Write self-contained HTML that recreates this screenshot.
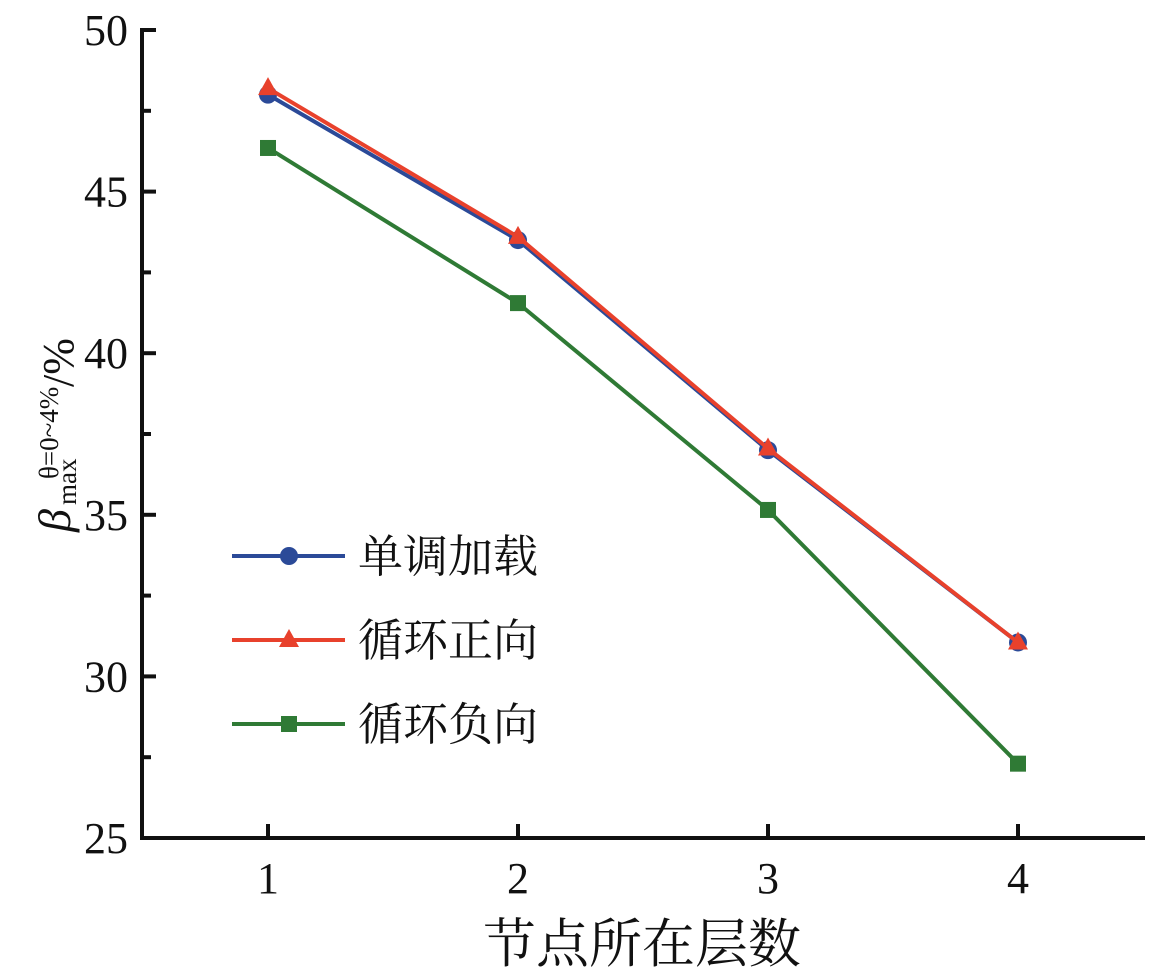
<!DOCTYPE html>
<html><head><meta charset="utf-8"><style>
html,body{margin:0;padding:0;background:#fff;}
svg{display:block;}
text{font-family:"Liberation Serif","Noto Serif CJK SC",serif;}
</style></head><body>
<svg id="chart" width="1164" height="974" viewBox="0 0 1164 974">
<g id="axes"></g><g id="series"></g><g id="legend"></g>
</svg>
<script>
const categories=[1,2,3,4];
const seriesNames=["单调加载","循环正向","循环负向"];
const monotonic=[48.0,43.5,37.0,31.05];
const cyclicPos=[48.2,43.6,37.05,31.05];
const cyclicNeg=[46.35,41.55,35.15,27.3];
const yTicks=[25,30,35,40,45,50];
const yMinor=[27.5,32.5,37.5,42.5,47.5];
const NS="http://www.w3.org/2000/svg";
function X(v){return 268+(v-1)*250;}
function Y(v){return 838-(v-25)*32.32;}
function mk(tag,attrs,parent,text){const e=document.createElementNS(NS,tag);for(const k in attrs)e.setAttribute(k,attrs[k]);if(text!==undefined)e.textContent=text;parent.appendChild(e);return e;}
const axes=document.getElementById('axes'),ser=document.getElementById('series'),leg=document.getElementById('legend');
let e;
e=mk('line',{x1:142,y1:28,x2:142,y2:840,stroke:'#111','stroke-width':4},axes);


e=mk('line',{x1:140,y1:838,x2:1145,y2:838,stroke:'#111','stroke-width':4},axes);


yTicks.forEach(t=>{
 mk('line',{x1:142,y1:Y(t),x2:156,y2:Y(t),stroke:'#111','stroke-width':4},axes);
 e=mk('text',{x:128,y:Y(t)+15,'text-anchor':'end','font-size':44,fill:'#111'},axes,String(t));
 
 
});
yMinor.forEach(t=>{mk('line',{x1:142,y1:Y(t),x2:151,y2:Y(t),stroke:'#111','stroke-width':4},axes);});
categories.forEach(c=>{
 mk('line',{x1:X(c),y1:838,x2:X(c),y2:824,stroke:'#111','stroke-width':4},axes);
 e=mk('text',{x:X(c),y:893,'text-anchor':'middle','font-size':44,fill:'#111'},axes,String(c));
 
 
});
e=mk('text',{x:642,y:962,'text-anchor':'middle','font-size':53,fill:'#111'},axes,'节点所在层数');


const yt=mk('g',{transform:'translate(60,435) rotate(-90)'},axes);


mk('text',{x:-97,y:10,'font-size':46,'font-style':'italic',fill:'#111'},yt,'β');
mk('text',{x:-44,y:-2,'font-size':27,fill:'#111'},yt,'θ=0~4%');
mk('text',{x:-70,y:16,'font-size':27,fill:'#111'},yt,'max');
mk('text',{x:48,y:13,'font-size':44,fill:'#111'},yt,'/%');
const cols=['#2b4a98','#e8412c','#2f7a35'];
const data=[monotonic,cyclicPos,cyclicNeg];
const names=['monotonic','cyclic-positive','cyclic-negative'];
function marker(k,x,y,p){
 if(k==0)return mk('circle',{cx:x,cy:y,r:9,fill:cols[0]},p);
 if(k==1)return mk('polygon',{points:`${x},${y-11} ${x+10},${y+7} ${x-10},${y+7}`,fill:cols[1]},p);
 return mk('rect',{x:x-8,y:y-8,width:16,height:16,fill:cols[2]},p);
}
[0,2,1].forEach(k=>{
 const g=mk('g',{},ser);
 
 
 mk('polyline',{points:categories.map((c,i)=>X(c)+','+Y(data[k][i])).join(' '),fill:'none',stroke:cols[k],'stroke-width':4},g);
 categories.forEach((c,i)=>{const m=marker(k,X(c),Y(data[k][i]),g);
  
  });
});
seriesNames.forEach((n,k)=>{
 const y=556+k*84;
 const g=mk('g',{},leg);
 
 
 mk('line',{x1:232,y1:y,x2:345,y2:y,stroke:cols[k],'stroke-width':4},g);
 marker(k,289,y,g);
 mk('text',{x:358,y:y+16,'font-size':45,fill:'#111'},g,n);
});
</script>
</body></html>
